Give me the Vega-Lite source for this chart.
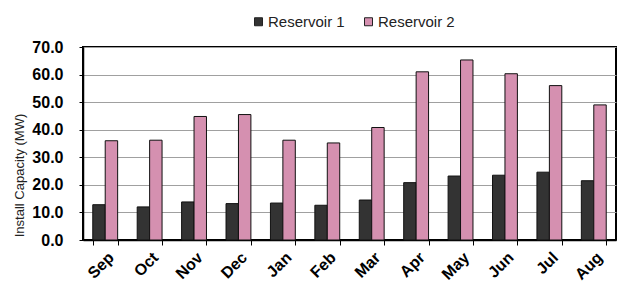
{
  "$schema": "https://vega.github.io/schema/vega-lite/v6.json",
  "autosize": {"type": "fit", "contains": "padding"},
  "width": 622,
  "height": 307,
  "padding": {"left": 12, "top": 39, "right": 6, "bottom": 24},
  "background": "white",
  "data": {"values": [
    {"month": "Sep", "series": "Reservoir 1", "value": 12.8},
    {"month": "Sep", "series": "Reservoir 2", "value": 36.0},
    {"month": "Oct", "series": "Reservoir 1", "value": 12.0},
    {"month": "Oct", "series": "Reservoir 2", "value": 36.2},
    {"month": "Nov", "series": "Reservoir 1", "value": 13.8},
    {"month": "Nov", "series": "Reservoir 2", "value": 44.8},
    {"month": "Dec", "series": "Reservoir 1", "value": 13.2},
    {"month": "Dec", "series": "Reservoir 2", "value": 45.5},
    {"month": "Jan", "series": "Reservoir 1", "value": 13.4},
    {"month": "Jan", "series": "Reservoir 2", "value": 36.2},
    {"month": "Feb", "series": "Reservoir 1", "value": 12.6},
    {"month": "Feb", "series": "Reservoir 2", "value": 35.2},
    {"month": "Mar", "series": "Reservoir 1", "value": 14.5},
    {"month": "Mar", "series": "Reservoir 2", "value": 40.8},
    {"month": "Apr", "series": "Reservoir 1", "value": 20.8},
    {"month": "Apr", "series": "Reservoir 2", "value": 61.0},
    {"month": "May", "series": "Reservoir 1", "value": 23.2},
    {"month": "May", "series": "Reservoir 2", "value": 65.3},
    {"month": "Jun", "series": "Reservoir 1", "value": 23.5},
    {"month": "Jun", "series": "Reservoir 2", "value": 60.3},
    {"month": "Jul", "series": "Reservoir 1", "value": 24.6},
    {"month": "Jul", "series": "Reservoir 2", "value": 56.0},
    {"month": "Aug", "series": "Reservoir 1", "value": 21.5},
    {"month": "Aug", "series": "Reservoir 2", "value": 49.0}
  ]},
  "mark": {"type": "bar", "stroke": "#111111", "strokeWidth": 1},
  "encoding": {
    "x": {
      "field": "month", "type": "nominal", "sort": null,
      "scale": {"paddingInner": 0.44, "paddingOuter": 0.22},
      "axis": {
        "title": null, "labelAngle": -45, "labelFont": "Liberation Sans",
        "labelFontSize": 16, "labelFontWeight": "bold", "labelColor": "#000000",
        "tickBand": "extent", "tickColor": "#000000", "tickSize": 5,
        "domainColor": "#000000", "domainWidth": 1.5, "labelPadding": 4
      }
    },
    "xOffset": {"field": "series", "type": "nominal", "scale": {"paddingInner": 0, "paddingOuter": 0}},
    "y": {
      "field": "value", "type": "quantitative",
      "scale": {"domain": [0, 70], "nice": false},
      "axis": {
        "title": "Install Capacity (MW)", "tickCount": 7, "format": ".1f",
        "labelFont": "Liberation Sans", "labelFontSize": 16, "labelFontWeight": "bold",
        "labelColor": "#000000", "labelPadding": 16, "tickColor": "#000000", "tickSize": 4,
        "domainColor": "#000000", "domainWidth": 1.5,
        "grid": true, "gridColor": "#a0a0a0", "gridWidth": 1.2,
        "titleFont": "Liberation Sans", "titleFontSize": 13, "titleFontWeight": "normal",
        "titleColor": "#222222", "titleX": -57, "titleY": 128, "titleAngle": -90,
        "titleAlign": "center", "titleBaseline": "bottom"
      }
    },
    "color": {
      "field": "series", "type": "nominal",
      "scale": {"domain": ["Reservoir 1", "Reservoir 2"], "range": ["#333333", "#d590b0"]},
      "legend": {
        "title": null, "orient": "none", "direction": "horizontal",
        "legendX": 168, "legendY": -33, "symbolType": "square", "symbolSize": 64,
        "symbolStrokeColor": "#222222", "symbolStrokeWidth": 1,
        "labelFont": "Liberation Sans", "labelFontSize": 15, "labelColor": "#222222",
        "columnPadding": 16, "labelOffset": 2
      }
    }
  },
  "config": {
    "view": {"stroke": "#000000", "strokeWidth": 2}
  }
}
